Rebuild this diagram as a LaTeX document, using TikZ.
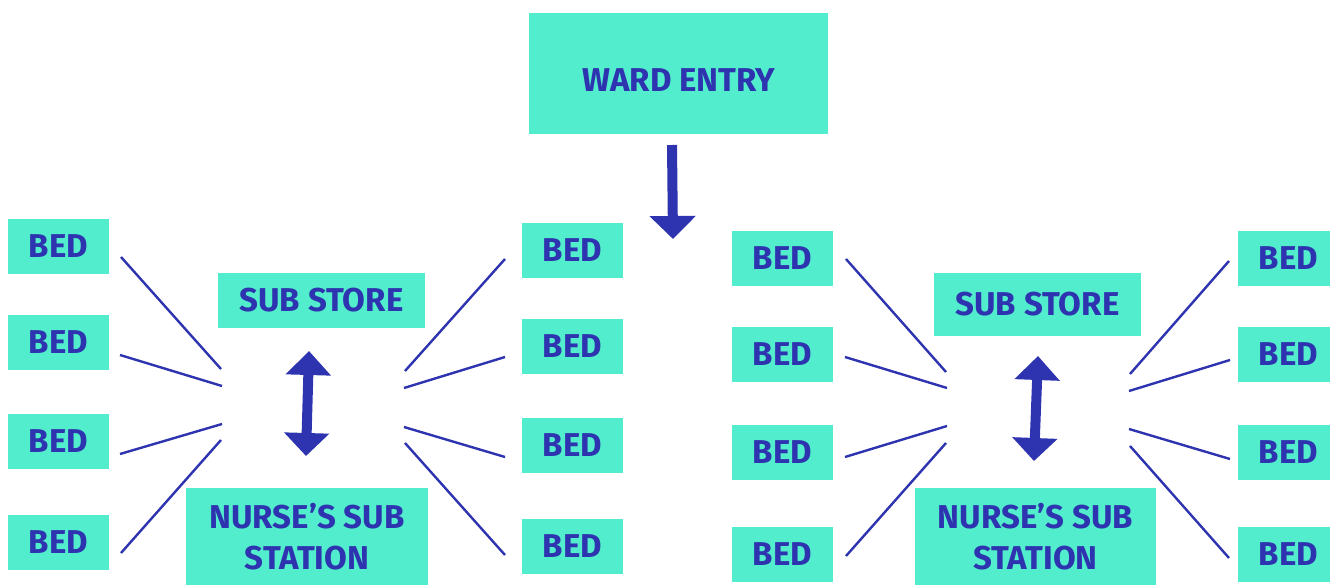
\documentclass[tikz,border=0pt]{standalone}
\usepackage{fontspec}
\setmainfont{Fira Sans}
\usetikzlibrary{arrows.meta}
\definecolor{boxfill}{HTML}{52EDCC}
\definecolor{ink}{HTML}{2E33AF}
\tikzset{
  box/.style={fill=boxfill, text=ink, inner sep=0pt, align=center,
    font=\fontsize{33}{41}\selectfont\bfseries},
  bedbox/.style={box, minimum width=101pt, minimum height=55pt},
  spoke/.style={draw=ink, line width=2.4pt},
  bigarrow/.style={draw=ink, line width=10pt},
  bigtip/.style={-{Triangle[length=23pt,width=45pt]}},
  bigtips/.style={{Triangle[length=24pt,width=44pt]}-{Triangle[length=23pt,width=44pt]}}
}
\begin{document}
\begin{tikzpicture}[x=1pt,y=-1pt]
\useasboundingbox (0,0) rectangle (1330,585);
\clip (0,0) rectangle (1330,585);

% Ward entry
\node[box, minimum width=299pt, minimum height=121pt] (ward) at (678.5,73.5) {};
\node[text=ink, font=\fontsize{33}{41}\selectfont\bfseries, inner sep=0pt] (wardtxt) at (679,80) {WARD ENTRY};
\coordinate (wardA) at (672,145);
\coordinate (wardB) at (673,239);
\draw[bigarrow, bigtip] (wardA) -- (wardB);

% ---------- Left group ----------
\node[bedbox] (LL1) at (58.5,246.5) {BED};
\node[bedbox] (LL2) at (58.5,342.5) {BED};
\node[bedbox] (LL3) at (58.5,441.5) {BED};
\node[bedbox] (LL4) at (58.5,542.5) {BED};
\node[bedbox] (LR1) at (572.5,250.5) {BED};
\node[bedbox] (LR2) at (572.5,346.5) {BED};
\node[bedbox] (LR3) at (572.5,445.5) {BED};
\node[bedbox] (LR4) at (572.5,546.5) {BED};
\node[box, minimum width=207pt, minimum height=55pt] (Lstore) at (321.5,300.5) {SUB STORE};
\node[box, minimum width=242pt, minimum height=97pt] (Lnurse) at (307,536.5) {NURSE’S SUB\\STATION};

\coordinate (a1) at (121,257); \coordinate (b1) at (221,369);
\coordinate (a2) at (120,355); \coordinate (b2) at (222,386);
\coordinate (a3) at (120,454); \coordinate (b3) at (222,424);
\coordinate (a4) at (121,553); \coordinate (b4) at (221,440);
\coordinate (c1) at (405,371); \coordinate (d1) at (505,259);
\coordinate (c2) at (404,388); \coordinate (d2) at (505,357);
\coordinate (c3) at (404,427); \coordinate (d3) at (505,457);
\coordinate (c4) at (405,443); \coordinate (d4) at (505,555);
\foreach \i in {1,2,3,4} {
  \draw[spoke] (a\i) -- (b\i);
  \draw[spoke] (c\i) -- (d\i);
}
\coordinate (Lup) at (309,351);
\coordinate (Ldn) at (306,456);
\draw[bigarrow, bigtips] (Lup) -- (Ldn);

% ---------- Right group ----------
\node[bedbox] (RL1) at (782.5,258.5) {BED};
\node[bedbox] (RL2) at (782.5,354.5) {BED};
\node[bedbox] (RL3) at (782.5,452.5) {BED};
\node[bedbox] (RL4) at (782.5,554.5) {BED};
\node[bedbox] (RR1) at (1288.5,258.5) {BED};
\node[bedbox] (RR2) at (1288.5,354.5) {BED};
\node[bedbox] (RR3) at (1288.5,452.5) {BED};
\node[bedbox] (RR4) at (1288.5,554.5) {BED};
\node[box, minimum width=207pt, minimum height=63pt] (Rstore) at (1037.5,304.5) {SUB STORE};
\node[box, minimum width=241pt, minimum height=97pt] (Rnurse) at (1035.5,536.5) {NURSE’S SUB\\STATION};

\coordinate (e1) at (846,259); \coordinate (f1) at (946,372);
\coordinate (e2) at (845,357); \coordinate (f2) at (947,388);
\coordinate (e3) at (845,457); \coordinate (f3) at (947,426);
\coordinate (e4) at (846,556); \coordinate (f4) at (946,443);
\coordinate (g1) at (1130,374); \coordinate (h1) at (1229,261);
\coordinate (g2) at (1129,391); \coordinate (h2) at (1230,360);
\coordinate (g3) at (1129,429); \coordinate (h3) at (1230,459);
\coordinate (g4) at (1130,446); \coordinate (h4) at (1229,558);
\foreach \i in {1,2,3,4} {
  \draw[spoke] (e\i) -- (f\i);
  \draw[spoke] (g\i) -- (h\i);
}
\coordinate (Rup) at (1038,356);
\coordinate (Rdn) at (1034,461);
\draw[bigarrow, bigtips] (Rup) -- (Rdn);
\end{tikzpicture}
\end{document}
